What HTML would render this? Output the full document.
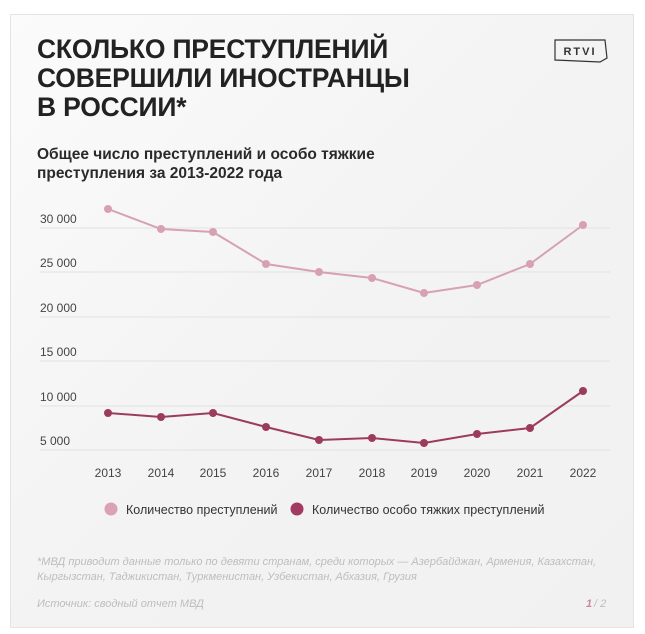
<!DOCTYPE html>
<html><head><meta charset="utf-8"><style>
html,body{margin:0;padding:0;background:#fff;}
body{width:645px;height:634px;position:relative;overflow:hidden;font-family:"Liberation Sans","DejaVu Sans",sans-serif;}
.card{position:absolute;left:10px;top:14px;width:622px;height:612px;border:1px solid #e4e4e4;background:linear-gradient(135deg,#fbfbfb 0%,#f3f3f3 50%,#f1f1f1 100%);}
.t{position:absolute;left:37px;top:35px;font-size:26.5px;font-weight:bold;line-height:29px;color:#222;letter-spacing:-0.2px;}
.s{position:absolute;left:37px;top:145px;font-size:15.5px;font-weight:bold;line-height:19px;color:#2a2a2a;}
svg{position:absolute;left:0;top:0;}
</style></head><body>
<div class="card"></div>
<div class="t">СКОЛЬКО ПРЕСТУПЛЕНИЙ<br>СОВЕРШИЛИ ИНОСТРАНЦЫ<br>В РОССИИ*</div>
<div class="s">Общее число преступлений и особо тяжкие<br>преступления за 2013-2022 года</div>
<svg width="645" height="634" font-family="Liberation Sans, DejaVu Sans, sans-serif">
<polygon points="555,40 605,40 607,58 600,62 555,60" fill="none" stroke="#333" stroke-width="1.2"/>
<text x="580" y="55" font-size="11" text-anchor="middle" fill="#333" letter-spacing="2" font-weight="bold">RTVI</text>
<g stroke="#e2e2e2" stroke-width="1">
<line x1="40" x2="610" y1="228" y2="228"/><line x1="40" x2="610" y1="272" y2="272"/>
<line x1="40" x2="610" y1="317" y2="317"/><line x1="40" x2="610" y1="361" y2="361"/>
<line x1="40" x2="610" y1="406" y2="406"/><line x1="40" x2="610" y1="450" y2="450"/>
</g>
<g font-size="12" fill="#444">
<text x="40" y="223">30 000</text><text x="40" y="267">25 000</text><text x="40" y="312">20 000</text>
<text x="40" y="356">15 000</text><text x="40" y="401">10 000</text><text x="40" y="445">5 000</text>
</g>
<g font-size="12" fill="#444" text-anchor="middle">
<text x="108" y="477">2013</text><text x="161" y="477">2014</text><text x="213" y="477">2015</text>
<text x="266" y="477">2016</text><text x="319" y="477">2017</text><text x="372" y="477">2018</text>
<text x="424" y="477">2019</text><text x="477" y="477">2020</text><text x="530" y="477">2021</text><text x="583" y="477">2022</text>
</g>
<polyline fill="none" stroke="#d7a1b3" stroke-width="2" points="108,209 161,229 213,232 266,264 319,272 372,278 424,293 477,285 530,264 583,225"/>
<g fill="#d7a1b3">
<circle cx="108" cy="209" r="4"/><circle cx="161" cy="229" r="4"/><circle cx="213" cy="232" r="4"/><circle cx="266" cy="264" r="4"/><circle cx="319" cy="272" r="4"/><circle cx="372" cy="278" r="4"/><circle cx="424" cy="293" r="4"/><circle cx="477" cy="285" r="4"/><circle cx="530" cy="264" r="4"/><circle cx="583" cy="225" r="4"/>
</g>
<polyline fill="none" stroke="#9c3b5e" stroke-width="2" points="108,413 161,417 213,413 266,427 319,440 372,438 424,443 477,434 530,428 583,391"/>
<g fill="#9c3b5e">
<circle cx="108" cy="413" r="4"/><circle cx="161" cy="417" r="4"/><circle cx="213" cy="413" r="4"/><circle cx="266" cy="427" r="4"/><circle cx="319" cy="440" r="4"/><circle cx="372" cy="438" r="4"/><circle cx="424" cy="443" r="4"/><circle cx="477" cy="434" r="4"/><circle cx="530" cy="428" r="4"/><circle cx="583" cy="391" r="4"/>
</g>
<circle cx="111" cy="509" r="6.5" fill="#dba2b6"/>
<text x="126" y="514" font-size="12.5" fill="#333">Количество преступлений</text>
<circle cx="297" cy="509" r="6.5" fill="#a33a61"/>
<text x="312" y="514" font-size="12.5" fill="#333">Количество особо тяжких преступлений</text>
<g font-size="11" fill="#bdbdbd" font-style="italic">
<text x="37" y="565">*МВД приводит данные только по девяти странам, среди которых — Азербайджан, Армения, Казахстан,</text>
<text x="37" y="580">Кыргызстан, Таджикистан, Туркменистан, Узбекистан, Абхазия, Грузия</text>
<text x="37" y="607">Источник: сводный отчет МВД</text>
</g>
<text x="586" y="607" font-size="11" font-style="italic" fill="#c98aa0" font-weight="bold">1</text>
<text x="594" y="607" font-size="11" font-style="italic" fill="#bdbdbd">/ 2</text>
</svg>
</body></html>
